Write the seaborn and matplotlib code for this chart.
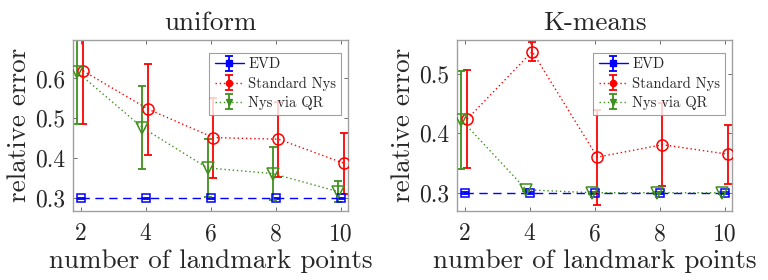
import numpy as np
import pandas as pd
import matplotlib
matplotlib.use("Agg")
import matplotlib.pyplot as plt
from matplotlib.lines import Line2D
import seaborn as sns

# Données
landmarks = [2, 4, 6, 8, 10]

uni_evd = [0.300, 0.300, 0.300, 0.300, 0.300]
uni_evd_err = [0.002, 0.002, 0.002, 0.002, 0.002]
uni_std = [0.619, 0.523, 0.452, 0.448, 0.388]
uni_std_err = [0.134, 0.114, 0.100, 0.094, 0.076]
uni_qr = [0.616, 0.477, 0.376, 0.362, 0.317]
uni_qr_err = [0.131, 0.104, 0.073, 0.066, 0.027]

km_evd = [0.300, 0.300, 0.300, 0.300, 0.300]
km_evd_err = [0.002, 0.002, 0.002, 0.002, 0.002]
km_std = [0.424, 0.538, 0.360, 0.381, 0.365]
km_std_err = [0.083, 0.016, 0.080, 0.070, 0.050]
km_qr = [0.423, 0.305, 0.300, 0.300, 0.300]
km_qr_err = [0.083, 0.002, 0.002, 0.002, 0.002]

sns.set_style("ticks")
plt.rcParams["font.family"] = ["cmr10", "DejaVu Serif"]
plt.rcParams["mathtext.fontset"] = "cm"
plt.rcParams["axes.formatter.use_mathtext"] = True

BLUE = "#0000ff"
RED = "#ff0000"
GREEN = "#3f8f1c"


def draw_panel(ax, title, evd, evd_err, std, std_err, qr, qr_err, ylim, yticks):
    x = np.array(landmarks, dtype=float)
    series = [
        ("EVD", x, evd, evd_err, BLUE, (0, (6, 4)), "s", 5.6),
        ("Standard Nys", x + 0.08, std, std_err, RED, (0, (1, 2)), "o", 8),
        ("Nys via QR", x - 0.1, qr, qr_err, GREEN, (0, (1, 2)), "v", 8),
    ]
    handles = []
    for label, xs, ys, err, col, ls, mk, ms in series:
        df = pd.DataFrame({"x": xs, "y": ys})
        sns.lineplot(data=df, x="x", y="y", ax=ax, color=col, linestyle=ls,
                     linewidth=1.0, marker=mk, markersize=ms,
                     markerfacecolor="none", markeredgecolor=col,
                     markeredgewidth=1.1, legend=False, zorder=3)
        eb = ax.errorbar(xs, ys, yerr=err, fmt="none", ecolor=col,
                         elinewidth=1.3, capsize=3, capthick=1.3, zorder=2)
        proxy = Line2D([], [], color=col, linestyle=ls if mk != "s" else "-",
                       linewidth=1.0, marker=mk, markersize=4.5,
                       markerfacecolor=col, markeredgecolor=col)
        handles.append((eb, proxy))

    ax.set_xlim(1.78, 10.2)
    ax.set_ylim(*ylim)
    ax.set_xticks(landmarks)
    ax.set_yticks(yticks)
    ax.set_xticklabels([str(v) for v in landmarks])
    ax.set_yticklabels([f"{v:.1f}" for v in yticks])
    ax.tick_params(direction="in", length=3, width=0.6, color="#555555",
                   labelsize=17, top=True, right=True, pad=6)
    ax.tick_params(axis="x", pad=9)
    for sp in ax.spines.values():
        sp.set_color("#a0a0a0")
        sp.set_linewidth(1.0)
    ax.set_title(title, fontsize=19.5, pad=7)
    ax.set_xlabel("number of landmark points", fontsize=19.5, labelpad=3)
    ax.set_ylabel("relative error", fontsize=19.5, labelpad=3)

    leg = ax.legend(handles, [s[0] for s in series], loc="upper right",
                    bbox_to_anchor=(0.977, 0.925), fontsize=10.5,
                    frameon=True, fancybox=False, handlelength=2.0,
                    handletextpad=0.3, borderpad=0.35, labelspacing=0.35,
                    borderaxespad=0)
    leg.get_frame().set_edgecolor("#888888")
    leg.get_frame().set_linewidth(0.8)


fig = plt.figure(figsize=(7.68, 2.8), dpi=100)
ax1 = fig.add_axes([0.0955, 0.2475, 0.357, 0.6107])
ax2 = fig.add_axes([0.5955, 0.2475, 0.357, 0.6107])

draw_panel(ax1, "uniform", uni_evd, uni_evd_err, uni_std, uni_std_err,
           uni_qr, uni_qr_err, (0.269, 0.697), [0.3, 0.4, 0.5, 0.6])
draw_panel(ax2, "K-means", km_evd, km_evd_err, km_std, km_std_err,
           km_qr, km_qr_err, (0.2697, 0.558), [0.3, 0.4, 0.5])

fig.savefig("out.png", dpi=100)
